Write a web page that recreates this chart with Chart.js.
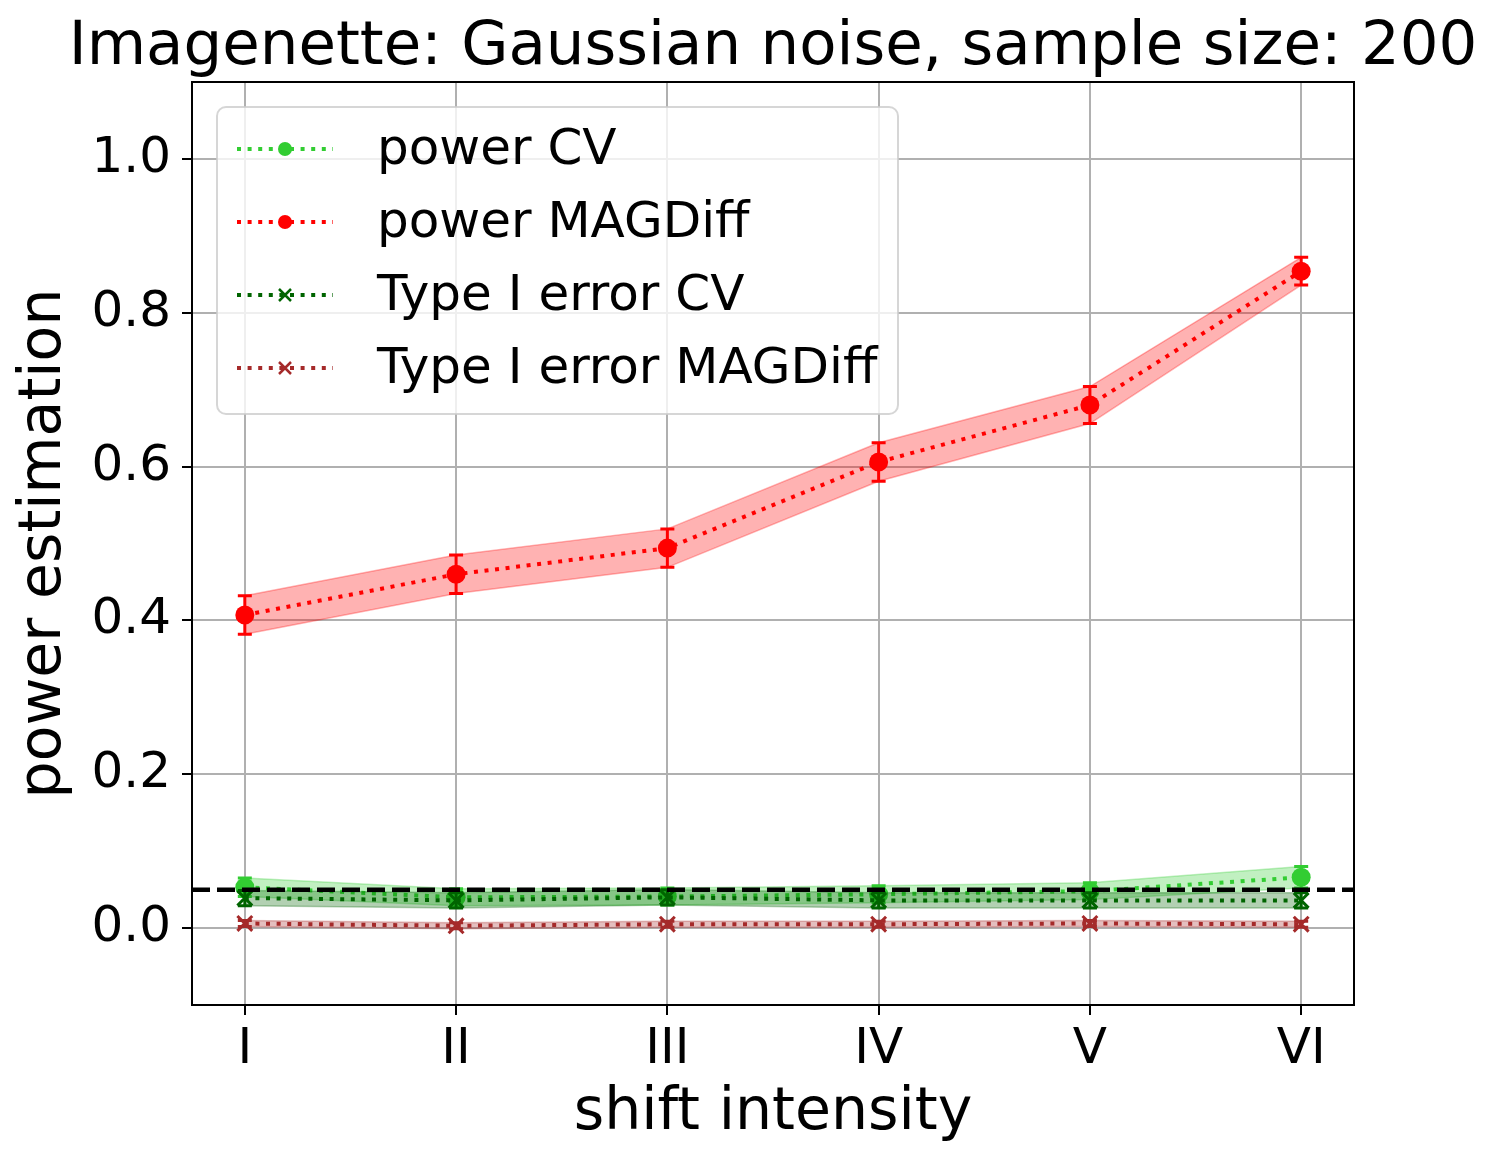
<!DOCTYPE html>
<html>
<head>
<meta charset="utf-8">
<title>Imagenette: Gaussian noise, sample size: 200</title>
<script src="https://cdn.jsdelivr.net/npm/chart.js@4.4.0/dist/chart.umd.min.js"></script>
<style>
  html, body { margin: 0; padding: 0; background: #fff; }
  canvas { display: block; }
</style>
</head>
<body>
<canvas id="chart" width="1497" height="1166"></canvas>
<script>
// x axis: shift intensity levels
const intensityLabels = ['I', 'II', 'III', 'IV', 'V', 'VI'];
const intensityPos = [0, 1, 2, 3, 4, 5];
const xLimits = [-0.25, 5.25];

// y axis
const yTickValues = [0.0, 0.2, 0.4, 0.6, 0.8, 1.0];
const yLimits = [-0.1, 1.1];

// mean values and spread
const powerCV = [0.053, 0.040, 0.041, 0.044, 0.048, 0.066];
const powerCVStd = [0.012, 0.011, 0.011, 0.011, 0.011, 0.014];
const powerMAGDiff = [0.407, 0.460, 0.494, 0.606, 0.680, 0.854];
const powerMAGDiffStd = [0.025, 0.025, 0.025, 0.025, 0.024, 0.018];
const typeICV = [0.039, 0.036, 0.040, 0.036, 0.036, 0.036];
const typeICVStd = [0.010, 0.010, 0.010, 0.010, 0.010, 0.010];
const typeIMAGDiff = [0.006, 0.003, 0.005, 0.005, 0.006, 0.005];
const typeIMAGDiffStd = [0.004, 0.004, 0.004, 0.004, 0.004, 0.004];

// significance level (dashed line)
const alphaLevel = 0.05;

const chartTitle = 'Imagenette: Gaussian noise, sample size: 200';

const FONT = "'DejaVu Sans', 'Liberation Sans', sans-serif";

const series = [
    { label: 'power CV', mean: powerCV, std: powerCVStd, rgb: [50, 205, 50], marker: 'circle' },
    { label: 'power MAGDiff', mean: powerMAGDiff, std: powerMAGDiffStd, rgb: [255, 0, 0], marker: 'circle' },
    { label: 'Type I error CV', mean: typeICV, std: typeICVStd, rgb: [0, 100, 0], marker: 'cross' },
    { label: 'Type I error MAGDiff', mean: typeIMAGDiff, std: typeIMAGDiffStd, rgb: [165, 42, 42], marker: 'cross' }
];

function rgba(rgb, a) {
    return `rgba(${rgb[0]}, ${rgb[1]}, ${rgb[2]}, ${a})`;
}

function toPoints(values) {
    return intensityPos.map((x, k) => ({ x: x, y: values[k] }));
}

// Build datasets: band (lower + upper filled), then the dotted line with markers
const datasets = [];
series.forEach((s, i) => {
    const lineOrder = 2 * (series.length - i) - 1;
    const bandOrder = lineOrder + 1;
    datasets.push({
        data: toPoints(s.mean.map((m, k) => m - s.std[k])),
        borderColor: rgba(s.rgb, 0.3),
        borderWidth: 1.5,
        pointRadius: 0,
        fill: false,
        order: bandOrder
    });
    datasets.push({
        data: toPoints(s.mean.map((m, k) => m + s.std[k])),
        borderColor: rgba(s.rgb, 0.3),
        backgroundColor: rgba(s.rgb, 0.3),
        borderWidth: 1.5,
        pointRadius: 0,
        fill: '-1',
        order: bandOrder
    });
    datasets.push({
        label: s.label,
        data: toPoints(s.mean),
        errors: s.std,
        borderColor: rgba(s.rgb, 1),
        backgroundColor: rgba(s.rgb, 1),
        borderWidth: 4,
        borderDash: [4, 6.6],
        borderCapStyle: 'butt',
        pointStyle: s.marker === 'circle' ? 'circle' : 'crossRot',
        pointRadius: s.marker === 'circle' ? 9.5 : 10.5,
        pointBorderWidth: s.marker === 'circle' ? 0 : 3,
        pointBorderColor: rgba(s.rgb, 1),
        pointBackgroundColor: rgba(s.rgb, 1),
        fill: false,
        tension: 0,
        order: lineOrder
    });
});

// Dashed horizontal line at the significance level
datasets.push({
    data: xLimits.map(x => ({ x: x, y: alphaLevel })),
    borderColor: '#000',
    borderWidth: 4.5,
    borderDash: [18, 7],
    pointRadius: 0,
    fill: false,
    order: 0
});

// Error bars with caps, drawn under the markers
const errorBarPlugin = {
    id: 'errorBars',
    beforeDatasetDraw(chart, args) {
        const ds = chart.data.datasets[args.index];
        if (!ds.errors) return;
        const ctx = chart.ctx;
        const yScale = chart.scales.y;
        ctx.save();
        ctx.strokeStyle = ds.borderColor;
        ctx.lineWidth = 3;
        ctx.setLineDash([]);
        args.meta.data.forEach((pt, k) => {
            const v = ds.data[k].y;
            const e = ds.errors[k];
            const top = yScale.getPixelForValue(v + e);
            const bot = yScale.getPixelForValue(v - e);
            ctx.beginPath();
            ctx.moveTo(pt.x, top);
            ctx.lineTo(pt.x, bot);
            ctx.moveTo(pt.x - 7, top);
            ctx.lineTo(pt.x + 7, top);
            ctx.moveTo(pt.x - 7, bot);
            ctx.lineTo(pt.x + 7, bot);
            ctx.stroke();
        });
        ctx.restore();
    }
};

// Full box around the plot area
const framePlugin = {
    id: 'frame',
    afterDatasetsDraw(chart) {
        const { ctx, chartArea: a } = chart;
        ctx.save();
        ctx.strokeStyle = '#000';
        ctx.lineWidth = 2;
        ctx.strokeRect(a.left, a.top, a.right - a.left, a.bottom - a.top);
        ctx.restore();
    }
};

// Title centred over the plot area, allowed to run past its edges
const titlePlugin = {
    id: 'axesTitle',
    afterDraw(chart) {
        const { ctx, chartArea: a } = chart;
        ctx.save();
        ctx.fillStyle = '#000';
        ctx.font = `61px ${FONT}`;
        ctx.textAlign = 'center';
        ctx.textBaseline = 'middle';
        ctx.fillText(chartTitle, (a.left + a.right) / 2, a.top - 34);
        ctx.restore();
    }
};

// matplotlib-style legend in the upper left of the plot area
const legendPlugin = {
    id: 'boxLegend',
    afterDraw(chart) {
        const { ctx, chartArea: a } = chart;
        const bx = a.left + 25, by = a.top + 25, bw = 681, bh = 307;
        ctx.save();
        ctx.beginPath();
        ctx.roundRect(bx, by, bw, bh, 9);
        ctx.fillStyle = 'rgba(255, 255, 255, 0.8)';
        ctx.fill();
        ctx.strokeStyle = 'rgba(204, 204, 204, 0.8)';
        ctx.lineWidth = 2;
        ctx.stroke();

        series.forEach((s, k) => {
            const cy = by + 42 + k * 73;
            const x0 = bx + 20, x1 = bx + 116, xm = (x0 + x1) / 2;
            const col = rgba(s.rgb, 1);
            ctx.strokeStyle = col;
            ctx.lineWidth = 4;
            ctx.setLineDash([4, 6.6]);
            ctx.beginPath();
            ctx.moveTo(x0, cy);
            ctx.lineTo(x1, cy);
            ctx.stroke();
            ctx.setLineDash([]);
            if (s.marker === 'circle') {
                ctx.fillStyle = col;
                ctx.beginPath();
                ctx.arc(xm, cy, 7, 0, Math.PI * 2);
                ctx.fill();
            } else {
                ctx.lineWidth = 2.5;
                ctx.beginPath();
                ctx.moveTo(xm - 6, cy - 6);
                ctx.lineTo(xm + 6, cy + 6);
                ctx.moveTo(xm - 6, cy + 6);
                ctx.lineTo(xm + 6, cy - 6);
                ctx.stroke();
            }
            ctx.fillStyle = '#000';
            ctx.font = `50px ${FONT}`;
            ctx.textAlign = 'left';
            ctx.textBaseline = 'middle';
            ctx.fillText(s.label, bx + 160, cy + 2);
        });
        ctx.restore();
    }
};

new Chart(document.getElementById('chart').getContext('2d'), {
    type: 'line',
    data: { datasets: datasets },
    options: {
        responsive: false,
        devicePixelRatio: 1,
        animation: false,
        events: [],
        layout: { padding: { left: 0, right: 143, top: 82, bottom: 0 } },
        plugins: {
            legend: { display: false },
            tooltip: { enabled: false },
            title: { display: false }
        },
        scales: {
            x: {
                type: 'linear',
                min: xLimits[0],
                max: xLimits[1],
                afterBuildTicks: scale => {
                    scale.ticks = intensityPos.map(v => ({ value: v }));
                },
                afterFit: scale => { scale.height = 161; },
                ticks: {
                    callback: (value, index) => intensityLabels[index],
                    color: '#000',
                    font: { family: FONT, size: 50, lineHeight: 1.2 },
                    padding: 5,
                    maxRotation: 0,
                    autoSkip: false
                },
                grid: { color: '#b0b0b0', lineWidth: 2, tickLength: 10, tickColor: '#000', tickWidth: 2 },
                border: { display: false },
                title: {
                    display: true,
                    text: 'shift intensity',
                    color: '#000',
                    font: { family: FONT, size: 58.5, lineHeight: 1 },
                    padding: { top: 0, bottom: 23 }
                }
            },
            y: {
                type: 'linear',
                min: yLimits[0],
                max: yLimits[1],
                afterBuildTicks: scale => {
                    scale.ticks = yTickValues.map(v => ({ value: v }));
                },
                afterFit: scale => { scale.width = 192; },
                ticks: {
                    callback: value => value.toFixed(1),
                    color: '#000',
                    font: { family: FONT, size: 50, lineHeight: 1.2 },
                    padding: 11
                },
                grid: { color: '#b0b0b0', lineWidth: 2, tickLength: 10, tickColor: '#000', tickWidth: 2 },
                border: { display: false },
                title: {
                    display: true,
                    text: 'power estimation',
                    color: '#000',
                    font: { family: FONT, size: 58.5, lineHeight: 1 },
                    padding: { top: 16, bottom: 0 }
                }
            }
        }
    },
    plugins: [errorBarPlugin, framePlugin, titlePlugin, legendPlugin]
});
</script>
</body>
</html>
